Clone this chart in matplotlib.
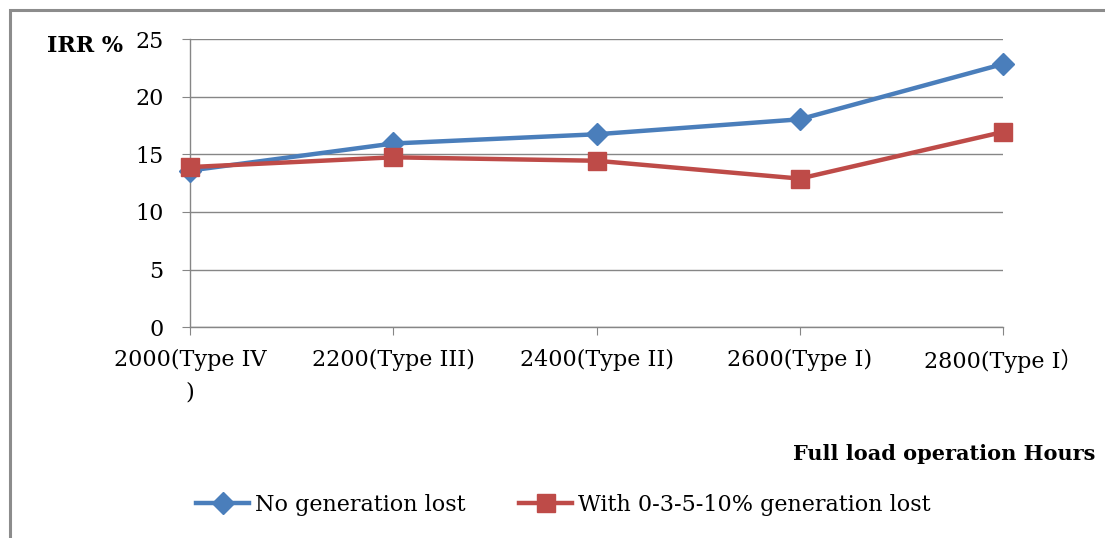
import matplotlib.pyplot as plt
from matplotlib.patches import Rectangle

hours = [2000, 2200, 2400, 2600, 2800]
tick_labels = ['2000(Type IV\n)', '2200(Type III)', '2400(Type II)', '2600(Type I)', '2800(Type I\uff09']
no_loss = [13.6, 15.95, 16.75, 18.05, 22.85]
with_loss = [13.9, 14.75, 14.45, 12.9, 16.95]
yticks = [0, 5, 10, 15, 20, 25]

plt.rcParams['font.family'] = ['DejaVu Serif', 'Noto Sans CJK SC', 'DejaVu Sans']

fig = plt.figure(figsize=(11.05, 5.38), dpi=100)
ax = fig.add_axes([190 / 1105, 1 - 327.1 / 538, (1003 - 190) / 1105, (327.1 - 39.3) / 538])

x = list(range(len(hours)))
ax.plot(x, no_loss, color='#4A7EBB', lw=3.2, marker='D', ms=11, label='No generation lost',
        zorder=3, clip_on=False)
ax.plot(x, with_loss, color='#BE4B48', lw=3.2, marker='s', ms=13, label='With 0-3-5-10% generation lost',
        zorder=4, clip_on=False)

ax.set_xlim(0, len(hours) - 1)
ax.set_ylim(0, 25)
ax.set_yticks(yticks)
ax.set_xticks(x)
ax.set_xticklabels(tick_labels, fontsize=16, linespacing=1.6)
ax.tick_params(axis='y', labelsize=16, length=6, color='#868686', pad=13)
ax.tick_params(axis='x', length=6, color='#868686', pad=10)
ax.grid(axis='y', color='#868686', lw=1)
ax.set_axisbelow(True)
for s in ['top', 'right']:
    ax.spines[s].set_visible(False)
for s in ['left', 'bottom']:
    ax.spines[s].set_color('#868686')
    ax.spines[s].set_linewidth(1)

fig.text(47 / 1105, 1 - 46 / 538, 'IRR %', fontsize=16, fontweight='bold', va='center')
fig.text(793 / 1105, 1 - 454 / 538, 'Full load operation Hours', fontsize=15, fontweight='bold', va='center')

fig.legend(loc='center left', bbox_to_anchor=(176 / 1105, 1 - 505 / 538), ncol=2, frameon=False,
           fontsize=16, handlelength=2.4, columnspacing=2.4, handletextpad=0.25)

fig.patches.append(Rectangle((10 / 1105, -0.1), 1.2, 1 - 10 / 538 + 0.1, transform=fig.transFigure,
                             fill=False, edgecolor='#8c8c8c', lw=2.2))

fig.savefig('out.png', dpi=100)
